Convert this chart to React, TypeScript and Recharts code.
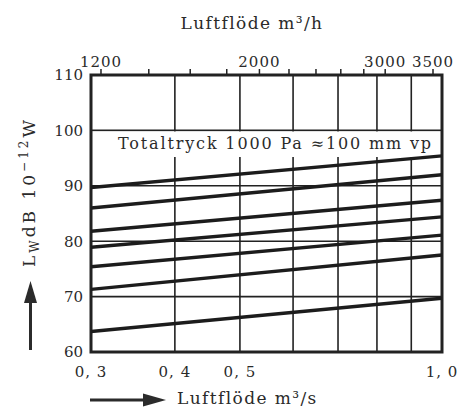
import { LineChart, Line, XAxis, YAxis, CartesianGrid, ReferenceArea } from "recharts";

// Luftflöde m3/s, ändpunkter för varje kurva
const flow = [0.3, 1.0];

// Ljudeffektnivå LW dB (ref 10^-12 W), avläst vid 0,3 och 1,0 m3/s
const curve1 = [89.7, 95.4];
const curve2 = [86.0, 92.0];
const curve3 = [81.8, 87.4];
const curve4 = [78.9, 84.4];
const curve5 = [75.4, 81.1];
const curve6 = [71.3, 77.5];
const curve7 = [63.7, 69.7];

const curves = [curve1, curve2, curve3, curve4, curve5, curve6, curve7];

const bottomTicks = [0.3, 0.4, 0.5, 0.6, 0.7, 0.8, 0.9, 1.0];
const bottomLabels = ["0, 3", "0, 4", "0, 5", "", "", "", "", "1, 0"];
const topTicks = [1200, 1400, 1600, 1800, 2000, 2200, 2400, 2600, 2800, 3000, 3500];
const topLabeled = [1200, 2000, 3000, 3500];
const yTicks = [60, 70, 80, 90, 100, 110];

const font = "DejaVu Serif";
const ink = "#222";

export default function App() {
  const series = curves.map((c) => c.map((lw, i) => ({ q: flow[i], lw })));
  // samma flöde i m3/h, bara för att den övre axeln ska ritas
  const topRef = flow.map((q) => ({ h: q * 3600, lw: null }));

  return (
    <div style={{ position: "absolute", left: 0, top: 0, width: 465, height: 407, background: "#fff" }}>
      <LineChart width={465} height={407} margin={{ top: 45, right: 23, bottom: 25, left: 51 }}>
        <CartesianGrid stroke={ink} strokeWidth={1.6} />
        <XAxis
          xAxisId={0}
          dataKey="q"
          type="number"
          scale="log"
          domain={[0.3, 1.0]}
          allowDataOverflow
          ticks={bottomTicks}
          interval={0}
          height={30}
          axisLine={false}
          tickLine={false}
          tickSize={6}
          tickMargin={8}
          tick={{ fontFamily: font, fontSize: 15, fill: "#2a2a2a", letterSpacing: 1 }}
          tickFormatter={(v: number) => bottomLabels[bottomTicks.findIndex((t) => Math.abs(t - v) < 1e-6)] ?? ""}
        />
        <XAxis
          xAxisId="top"
          dataKey="h"
          orientation="top"
          type="number"
          scale="log"
          domain={[1162, 3603]}
          allowDataOverflow
          ticks={topTicks}
          interval={0}
          height={30}
          axisLine={false}
          tickLine={{ stroke: ink, strokeWidth: 1.5 }}
          tickSize={6}
          tickMargin={2}
          tick={{ fontFamily: font, fontSize: 15, fill: "#2a2a2a", letterSpacing: 1 }}
          tickFormatter={(v: number) => (topLabeled.includes(v) ? String(v) : "")}
        />
        <YAxis
          type="number"
          domain={[60, 110]}
          ticks={yTicks}
          interval={0}
          width={40}
          axisLine={false}
          tickLine={false}
          tickSize={6}
          tickMargin={2}
          tick={{ fontFamily: font, fontSize: 15, fill: "#2a2a2a" }}
        />
        <ReferenceArea x1={0.3} x2={1.0} y1={95.2} y2={99.8} fill="#fff" fillOpacity={1} stroke="none" />
        <Line
          xAxisId="top"
          data={topRef}
          dataKey="lw"
          stroke="none"
          dot={false}
          legendType="none"
          isAnimationActive={false}
        />
        {series.map((d, i) => (
          <Line
            key={i}
            data={d}
            dataKey="lw"
            type="linear"
            stroke="#1c1c1c"
            strokeWidth={3.4}
            dot={false}
            isAnimationActive={false}
          />
        ))}
        <ReferenceArea x1={0.3} x2={1.0} y1={60} y2={110} fill="none" stroke={ink} strokeWidth={3} />
      </LineChart>

      <svg
        width={465}
        height={407}
        style={{ position: "absolute", left: 0, top: 0, pointerEvents: "none" }}
        fontFamily={font}
        fill="#2a2a2a"
      >
        <text x={252} y={29} textAnchor="middle" fontSize={17} letterSpacing={1.4}>
          Luftflöde m³/h
        </text>
        <text x={118} y={149} fontSize={16} letterSpacing={1.85}>
          Totaltryck 1000 Pa ≈100 mm vp
        </text>
        <text transform="translate(35,192) rotate(-90)" textAnchor="middle" fontSize={17} letterSpacing={3}>
          L<tspan dy={4} fontSize={12}>W</tspan>
          <tspan dy={-4}>dB 10</tspan>
          <tspan dy={-7} fontSize={12}>−12</tspan>
          <tspan dy={7}>W</tspan>
        </text>
        <text x={177} y={404} fontSize={17} letterSpacing={1.4}>
          Luftflöde m³/s
        </text>
        {/* pilar */}
        <line x1={30.5} y1={350} x2={30.5} y2={300} stroke="#2b2b2b" strokeWidth={3} />
        <polygon points="24,303 30.5,281 37,303" fill="#2b2b2b" />
        <line x1={90} y1={400} x2={146} y2={400} stroke="#2b2b2b" strokeWidth={3} />
        <polygon points="143,393.5 166,400 143,406.5" fill="#2b2b2b" />
      </svg>
    </div>
  );
}
